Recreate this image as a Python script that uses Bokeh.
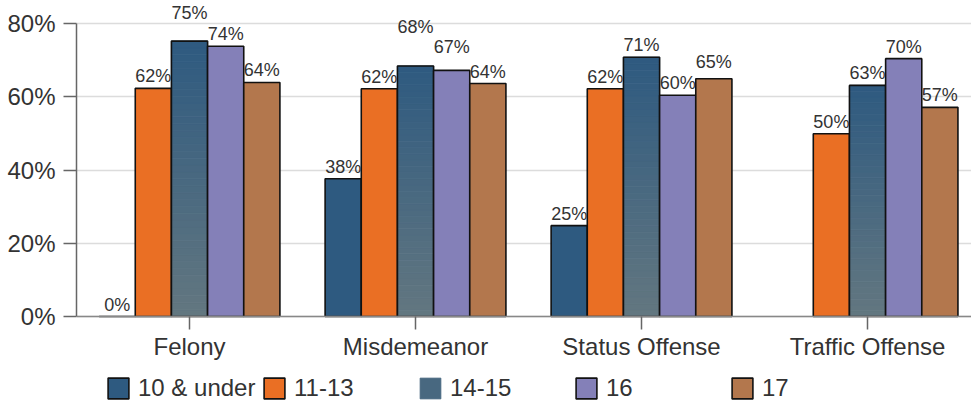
from bokeh.plotting import figure
from bokeh.models import (Range1d, FixedTicker, PrintfTickFormatter, ColumnDataSource,
                          LabelSet, Legend, LegendItem)
from bokeh.core.properties import value
from bokeh.embed import file_html
from bokeh.resources import INLINE

# ---------------- data ----------------
categories = ["Felony", "Misdemeanor", "Status Offense", "Traffic Offense"]
series = ["10 & under", "11-13", "14-15", "16", "17"]
age_10_under = [0.0, 37.6, 24.8, None]
age_11_13 = [62.3, 62.2, 62.2, 49.9]
age_14_15 = [75.2, 68.4, 70.8, 63.1]
age_16 = [73.8, 67.2, 60.4, 70.4]
age_17 = [63.9, 63.6, 64.9, 57.1]
y_ticks = [0, 20, 40, 60, 80]
values = [age_10_under, age_11_13, age_14_15, age_16, age_17]

# ---------------- style ----------------
FONT = "Liberation Sans"
TXT = "#333333"
FS = "24px"
colors = ["#2e5a80", "#ea6f24", None, "#8480b8", "#b3774d"]
grad_top, grad_bottom = "#2e5a80", "#637780"
bar_w = 0.16
offsets = [-0.32, -0.16, 0.0, 0.16, 0.32]
base_lift = 6
extra_lift = {("14-15", "Felony"): 16, ("14-15", "Misdemeanor"): 27,
              ("16", "Misdemeanor"): 11, ("17", "Status Offense"): 5}

p = figure(width=971, height=402, x_range=Range1d(0, 3.96), y_range=Range1d(-23.48, 86.28),
           output_backend="svg", toolbar_location=None,
           min_border_left=76, min_border_right=0, min_border_top=0, min_border_bottom=0)
p.outline_line_color = None
p.xgrid.grid_line_color = None
p.ygrid.grid_line_color = "#dcdcdc"
p.ygrid.grid_line_width = 1.5
p.ygrid.ticker = FixedTicker(ticks=y_ticks)

# axes
p.yaxis.ticker = FixedTicker(ticks=y_ticks)
p.yaxis.formatter = PrintfTickFormatter(format="%d%%")
p.yaxis.bounds = (0, 80)
p.xaxis.fixed_location = 0
p.xaxis.ticker = FixedTicker(ticks=[i + 0.5 for i in range(len(categories))])
p.xaxis.major_label_overrides = {i + 0.5: c for i, c in enumerate(categories)}
for ax in (p.xaxis, p.yaxis):
    ax.axis_line_color = "#666666"
    ax.axis_line_width = 1.5
    ax.major_tick_line_color = "#666666"
    ax.major_tick_line_width = 1.5
    ax.major_tick_out = 13
    ax.major_tick_in = 0
    ax.minor_tick_line_color = None
    ax.major_label_text_font = FONT
    ax.major_label_text_font_size = FS
    ax.major_label_text_color = TXT
p.yaxis.major_label_standoff = 8
p.xaxis.major_label_standoff = 3
p.xaxis.axis_line_color = "#888888"

def mix(c1, c2, t):
    a = [int(c1[i:i + 2], 16) for i in (1, 3, 5)]
    b = [int(c2[i:i + 2], 16) for i in (1, 3, 5)]
    return "#%02x%02x%02x" % tuple(round(a[k] + (b[k] - a[k]) * t) for k in range(3))

legend_items = []
lab_x, lab_y, lab_t, lab_lift = [], [], [], []
N = 40
for j, (name, vals) in enumerate(zip(series, values)):
    xs, tops = [], []
    for i, v in enumerate(vals):
        if v is None:
            continue
        xs.append(i + 0.5 + offsets[j])
        tops.append(v)
        lab_x.append(i + 0.5 + offsets[j])
        lab_y.append(v)
        lab_t.append(f"{round(v)}%")
        lab_lift.append(base_lift + extra_lift.get((name, categories[i]), 0))
    if colors[j] is not None:
        r = p.vbar(x=xs, top=tops, bottom=0, width=bar_w, fill_color=colors[j],
                   line_color="#111111", line_width=1.6)
        legend_items.append(LegendItem(label=name, renderers=[r]))
    else:
        L, R, B, T, C = [], [], [], [], []
        for x, v in zip(xs, tops):
            for k in range(N):
                L.append(x - bar_w / 2)
                R.append(x + bar_w / 2)
                B.append(v * k / N)
                T.append(v * (k + 1) / N)
                C.append(mix(grad_bottom, grad_top, (k + 0.5) / N))
        src = ColumnDataSource(dict(left=L, right=R, bottom=B, top=T, color=C))
        rg = p.quad(left="left", right="right", bottom="bottom", top="top", source=src,
                    fill_color="color", line_color="color", line_width=0.8)
        ro = p.vbar(x=xs, top=tops, bottom=0, width=bar_w, fill_color=None,
                    line_color="#111111", line_width=1.6)
        legend_items.append(LegendItem(label=name, renderers=[rg, ro], index=N // 2))

lab_src = ColumnDataSource(dict(x=lab_x, y=lab_y, text=lab_t, lift=lab_lift))
labels = LabelSet(x="x", y="y", text="text", y_offset="lift", source=lab_src,
                  text_align="center", text_baseline="alphabetic",
                  text_font=value(FONT), text_font_size=value("18px"), text_color=value(TXT))
p.add_layout(labels)

legend = Legend(items=legend_items, orientation="horizontal", location=(29, 0),
                glyph_width=26, glyph_height=26, label_standoff=7, label_width=118,
                spacing=5, padding=0, margin=0, border_line_color=None,
                background_fill_alpha=0, label_text_font=FONT,
                label_text_font_size=FS, label_text_color=TXT)
p.add_layout(legend)

open("out.html", "w").write(file_html(p, INLINE))
